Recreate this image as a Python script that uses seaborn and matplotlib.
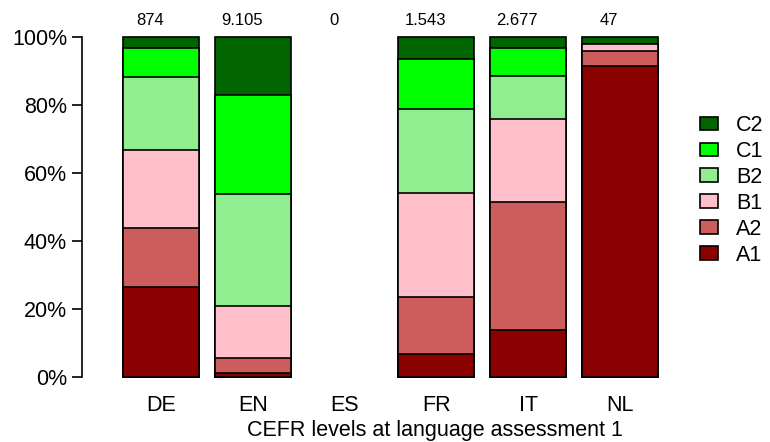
import matplotlib
matplotlib.use("Agg")
import matplotlib.pyplot as plt
from matplotlib.patches import Patch
import seaborn as sns
import pandas as pd

# data (percent of each language group)
languages = ["DE", "EN", "ES", "FR", "IT", "NL"]
counts = [874, 9105, 0, 1543, 2677, 47]
levels = ["A1", "A2", "B1", "B2", "C1", "C2"]
colours = ["#8B0000", "#CD5C5C", "#FFC0CB", "#90EE90", "#00FF00", "#006400"]

a1 = [26.4, 1.3, 0, 6.7, 13.8, 91.5]
a2 = [17.3, 4.4, 0, 16.9, 37.7, 4.3]
b1 = [23.1, 15.2, 0, 30.6, 24.5, 2.1]
b2 = [21.3, 32.9, 0, 24.5, 12.5, 0]
c1 = [8.6, 29.2, 0, 14.7, 8.2, 0]
c2 = [3.3, 17.0, 0, 6.6, 3.3, 2.1]

df = pd.DataFrame({"A1": a1, "A2": a2, "B1": b1, "B2": b2, "C1": c1, "C2": c2},
                  index=languages)
share = df.div(df.sum(axis=1), axis=0)   # ES has no cases -> NaN, no bar
cum = share.cumsum(axis=1)

sns.set_style("white")
plt.rcParams["font.family"] = ["Liberation Sans", "DejaVu Sans"]
plt.rcParams["text.color"] = "black"
plt.rcParams["axes.labelcolor"] = "black"

fig = plt.figure(figsize=(7.7, 4.42), dpi=100)
ax = fig.add_axes([82 / 770, 51.4 / 442, 598 / 770, 367.2 / 442])

# stack by overdrawing cumulative bars, top level first
for lvl, col in reversed(list(zip(levels, colours))):
    sns.barplot(x=languages, y=cum[lvl].values, order=languages, color=col,
                saturation=1, edgecolor="black", linewidth=1.2, width=0.83,
                errorbar=None, ax=ax)

ax.set_xlim(-0.86, 5.654)
ax.set_ylim(-0.04, 1.04)
ax.set_yticks([0, 0.2, 0.4, 0.6, 0.8, 1.0])
ax.set_yticklabels(["0%", "20%", "40%", "60%", "80%", "100%"])
for s in ["top", "right", "bottom"]:
    ax.spines[s].set_visible(False)
ax.spines["left"].set_bounds(0, 1)
ax.spines["left"].set_linewidth(1.2)
ax.spines["left"].set_color("black")
ax.tick_params(axis="y", left=True, length=7.2, width=1.2, pad=3.6,
               labelsize=15.5, colors="black")
ax.tick_params(axis="x", bottom=False, length=0, pad=3, labelsize=15.5,
               colors="black")

for i, n in enumerate(counts):
    ax.text(i - 0.12, 1.05, f"{n:,}".replace(",", "."), ha="center",
            va="center", fontsize=12, color="black", clip_on=False)

ax.set_xlabel("CEFR levels at language assessment 1", fontsize=15.5,
              color="black")
ax.xaxis.set_label_coords(0.59, -0.08)
ax.set_ylabel("")

handles = [Patch(facecolor=c, edgecolor="black", linewidth=1.2) for c in colours][::-1]
fig.legend(handles, levels[::-1], loc="upper left",
           bbox_to_anchor=(700 / 770, (442 - 115) / 442), frameon=False,
           fontsize=15.5, handlelength=0.84, handleheight=0.6,
           handletextpad=0.84, labelspacing=0.23, borderpad=0,
           borderaxespad=0, labelcolor="black")

fig.savefig("out.png", dpi=100)
